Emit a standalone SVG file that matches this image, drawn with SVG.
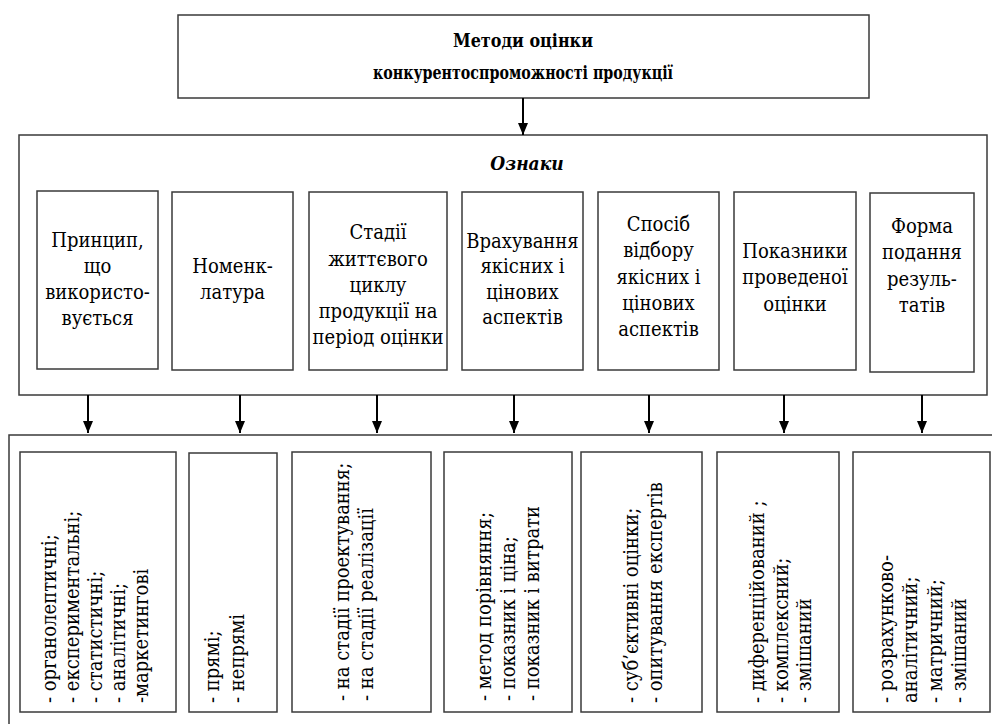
<svg xmlns="http://www.w3.org/2000/svg" width="992" height="724" viewBox="0 0 992 724">
<style>
.box{fill:#fff;stroke:#3a3a3a;stroke-width:1.5}
.t{font-family:"DejaVu Serif Condensed","DejaVu Serif",serif;font-stretch:condensed;font-size:20px;fill:#000}
.c{text-anchor:middle}
.b{font-weight:bold;font-size:19px}
.bi{font-weight:bold;font-style:italic;font-size:19px}
.conn{stroke:#000;stroke-width:2;fill:none;marker-end:url(#ah)}
</style>
<defs>
<marker id="ah" viewBox="0 0 12 10" refX="12" refY="5" markerWidth="12" markerHeight="10" markerUnits="userSpaceOnUse" orient="auto">
<path d="M0,0 L12,5 L0,10 z" fill="#000"/>
</marker>
</defs>
<rect width="992" height="724" fill="#fff"/>

<g id="title">
<rect class="box" x="178" y="15" width="691" height="83"/>
<text class="t c b" x="523" y="47" textLength="140" lengthAdjust="spacingAndGlyphs">Методи оцінки</text>
<text class="t c b" x="523" y="79" textLength="300" lengthAdjust="spacingAndGlyphs">конкурентоспроможності продукції</text>
</g>

<g id="oznaky">
<rect class="box" x="19" y="135" width="968" height="260"/>
<text class="t c bi" x="527" y="170">Ознаки</text>
</g>

<g id="n1"><rect class="box" x="37" y="191" width="121" height="178"/>
<text class="t c" x="97.5" y="247">Принцип,</text>
<text class="t c" x="97.5" y="273">що</text>
<text class="t c" x="97.5" y="299">використо-</text>
<text class="t c" x="97.5" y="325">вується</text></g>

<g id="n2"><rect class="box" x="172" y="192" width="121" height="178"/>
<text class="t c" x="232.5" y="273">Номенк-</text>
<text class="t c" x="232.5" y="299">латура</text></g>

<g id="n3"><rect class="box" x="309" y="192" width="138" height="178"/>
<text class="t c" x="378" y="239">Стадії</text>
<text class="t c" x="378" y="266">життєвого</text>
<text class="t c" x="378" y="292">циклу</text>
<text class="t c" x="378" y="318">продукції на</text>
<text class="t c" x="378" y="344">період оцінки</text></g>

<g id="n4"><rect class="box" x="462" y="192" width="121" height="178"/>
<text class="t c" x="522.5" y="248">Врахування</text>
<text class="t c" x="522.5" y="273">якісних і</text>
<text class="t c" x="522.5" y="299">цінових</text>
<text class="t c" x="522.5" y="324">аспектів</text></g>

<g id="n5"><rect class="box" x="598" y="192" width="121" height="178"/>
<text class="t c" x="658.5" y="231">Спосіб</text>
<text class="t c" x="658.5" y="257">відбору</text>
<text class="t c" x="658.5" y="284">якісних і</text>
<text class="t c" x="658.5" y="310">цінових</text>
<text class="t c" x="658.5" y="336">аспектів</text></g>

<g id="n6"><rect class="box" x="734" y="192" width="122" height="178"/>
<text class="t c" x="795" y="258">Показники</text>
<text class="t c" x="795" y="284">проведеної</text>
<text class="t c" x="795" y="311">оцінки</text></g>

<g id="n7"><rect class="box" x="870" y="193" width="104" height="179"/>
<text class="t c" x="922" y="233">Форма</text>
<text class="t c" x="922" y="259">подання</text>
<text class="t c" x="922" y="286">резуль-</text>
<text class="t c" x="922" y="312">татів</text></g>

<g id="methods">
<rect class="box" x="9" y="435" width="1000" height="300"/>
</g>

<g id="m1"><rect class="box" x="20" y="452" width="156" height="260"/>
<text class="t" transform="translate(56,703) rotate(-90)">- органолептичні;</text>
<text class="t" transform="translate(79,703) rotate(-90)">- експериментальні;</text>
<text class="t" transform="translate(102,703) rotate(-90)">- статистичні;</text>
<text class="t" transform="translate(125,703) rotate(-90)">- аналітичні;</text>
<text class="t" transform="translate(148,703) rotate(-90)">-маркетингові</text></g>

<g id="m2"><rect class="box" x="189" y="453" width="88" height="259"/>
<text class="t" transform="translate(219,703) rotate(-90)">- прямі;</text>
<text class="t" transform="translate(244,703) rotate(-90)">- непрямі</text></g>

<g id="m3"><rect class="box" x="292" y="452" width="139" height="260"/>
<text class="t" transform="translate(349,701) rotate(-90)">- на стадії проектування;</text>
<text class="t" transform="translate(373,701) rotate(-90)">- на стадії реалізації</text></g>

<g id="m4"><rect class="box" x="444" y="452" width="128" height="260"/>
<text class="t" transform="translate(491,701) rotate(-90)">- метод порівняння;</text>
<text class="t" transform="translate(515,701) rotate(-90)">- показник і ціна;</text>
<text class="t" transform="translate(539,701) rotate(-90)">- показник і витрати</text></g>

<g id="m5"><rect class="box" x="581" y="452" width="121" height="260"/>
<text class="t" transform="translate(638,703) rotate(-90)">- суб’єктивні оцінки;</text>
<text class="t" transform="translate(662,703) rotate(-90)">- опитування експертів</text></g>

<g id="m6"><rect class="box" x="717" y="452" width="122" height="260"/>
<text class="t" transform="translate(764,703) rotate(-90)">- диференційований ;</text>
<text class="t" transform="translate(788,703) rotate(-90)">- комплексний;</text>
<text class="t" transform="translate(811,703) rotate(-90)">- змішаний</text></g>

<g id="m7"><rect class="box" x="853" y="452" width="137" height="260"/>
<text class="t" transform="translate(893,703) rotate(-90)">- розрахунково-</text>
<text class="t" transform="translate(917,703) rotate(-90)">аналітичний;</text>
<text class="t" transform="translate(942,703) rotate(-90)">- матричний;</text>
<text class="t" transform="translate(966,703) rotate(-90)">- змішаний</text></g>

<g id="connectors">
<line class="conn" x1="523" y1="98" x2="523" y2="135"/>
<line class="conn" x1="88" y1="395" x2="88" y2="433"/>
<line class="conn" x1="240" y1="395" x2="240" y2="433"/>
<line class="conn" x1="377" y1="395" x2="377" y2="433"/>
<line class="conn" x1="514" y1="395" x2="514" y2="433"/>
<line class="conn" x1="649" y1="395" x2="649" y2="433"/>
<line class="conn" x1="784" y1="395" x2="784" y2="433"/>
<line class="conn" x1="922" y1="395" x2="922" y2="433"/>
</g>
</svg>
